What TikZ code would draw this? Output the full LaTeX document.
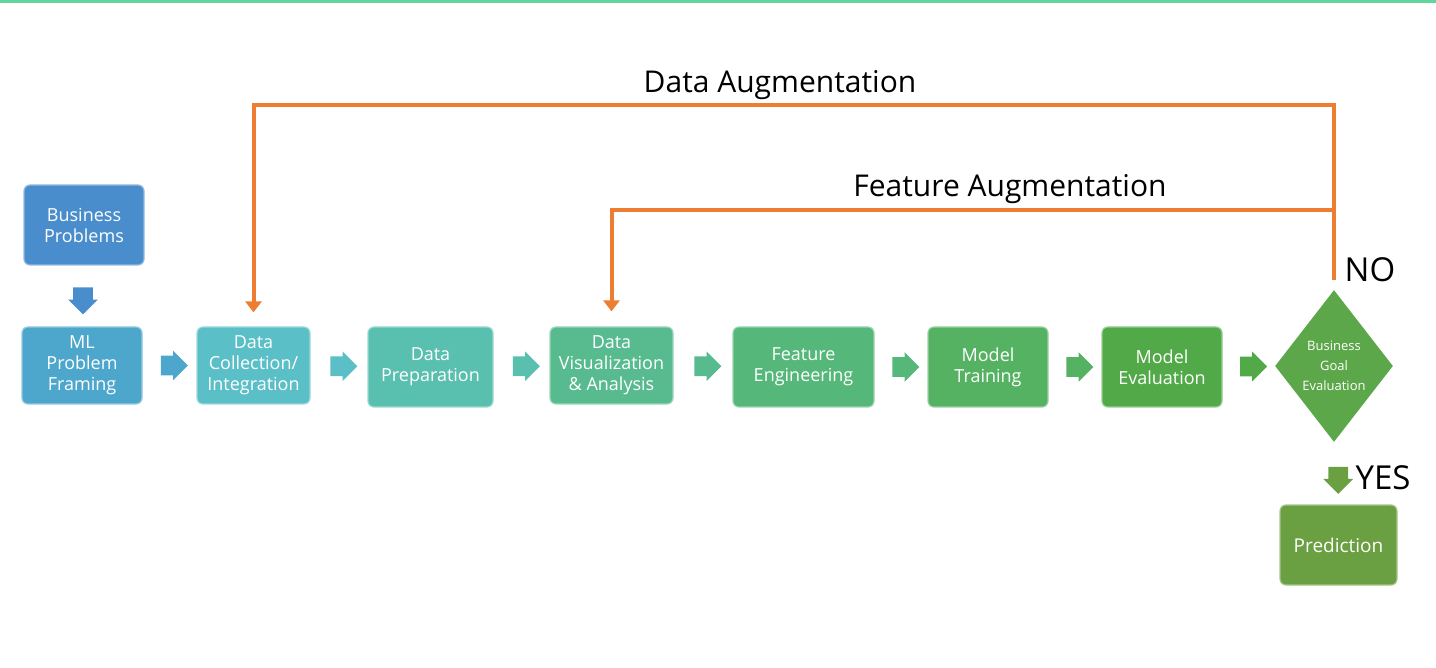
\documentclass[tikz,border=0pt]{standalone}
\usepackage{fontspec}
\setmainfont{Open Sans}
\usetikzlibrary{arrows.meta, positioning, calc, shapes.geometric, shapes.arrows}

\definecolor{bpblue}{HTML}{4A8DCC}
\definecolor{mlblue}{HTML}{4DA6CB}
\definecolor{dcteal}{HTML}{5ABFC7}
\definecolor{dpteal}{HTML}{59BFAF}
\definecolor{dvgreen}{HTML}{58BB8F}
\definecolor{fegreen}{HTML}{55B779}
\definecolor{mtgreen}{HTML}{55B262}
\definecolor{megreen}{HTML}{51AA47}
\definecolor{bggreen}{HTML}{5CA74A}
\definecolor{prgreen}{HTML}{6A9F42}
\definecolor{augorange}{HTML}{ED7D31}
\definecolor{topline}{HTML}{62D69A}

\begin{document}
\begin{tikzpicture}[
	x=0.5pt, y=-0.5pt,
	block/.style={
		rectangle, rounded corners=3pt, fill=#1, draw=#1!60!white, line width=0.6pt,
		text=white, align=center, inner sep=0pt,
		font=\fontsize{9}{10.5}\selectfont
	},
	decision/.style={
		diamond, aspect=0.78, fill=#1, draw=none, text=white, align=center,
		inner sep=0pt, minimum width=59pt, minimum height=76pt,
		font=\fontsize{6.5}{10}\selectfont
	},
	flow/.style={
		single arrow, fill=#1, draw=none, inner xsep=0pt, inner ysep=4.75pt,
		single arrow head extend=2.5pt, single arrow head indent=0pt,
		minimum height=13.5pt
	},
	feedback/.style={augorange, line width=2pt, -{Triangle[width=8pt,length=5.5pt]}},
	title/.style={font=\fontsize{15}{18}\selectfont},
	answer/.style={font=\fontsize{16.5}{19}\selectfont}
	]
	
	\useasboundingbox (0,0) rectangle (1436,668);
	\draw[topline, line width=1.5pt] (0,1.5) -- (1436,1.5);
	
	% Nodes
	\node[block=bpblue, minimum width=60pt, minimum height=40pt] (bp) at (84,225) {Business\\Problems};
	\node[block=mlblue, minimum width=60pt, minimum height=38.5pt] (mlf) at (82,365.5) {ML\\Problem\\Framing};
	\node[block=dcteal, minimum width=56.5pt, minimum height=38.5pt] (dci) at (253.5,365.5) {Data\\Collection/\\Integration};
	\node[block=dpteal, minimum width=62.5pt, minimum height=40pt] (dp) at (430.5,367) {Data\\Preparation};
	\node[block=dvgreen, minimum width=61.5pt, minimum height=38.5pt] (dva) at (611.5,365.5) {Data\\Visualization\\\& Analysis};
	\node[block=fegreen, minimum width=70.5pt, minimum height=40pt] (fe) at (803.5,367) {Feature\\Engineering};
	\node[block=mtgreen, minimum width=60pt, minimum height=40pt] (mt) at (988,367) {Model\\Training};
	\node[block=megreen, minimum width=60pt, minimum height=40pt] (me) at (1162,367) {Model\\Evaluation};
	\node[decision=bggreen] (bge) at (1334,366) {Business\\Goal\\Evaluation};
	\node[block=prgreen, minimum width=58.5pt, minimum height=40pt, font=\fontsize{9.5}{11}\selectfont] (pred) at (1338.5,545) {Prediction};
	
	% Block arrows
	\node[flow=bpblue, rotate=-90] (a0) at ($(bp.south)!0.5!(mlf.north)$) {};
	\node[flow=mlblue] (a1) at ($(mlf.east)!0.5!(dci.west)$) {};
	\node[flow=dcteal] (a2) at ($(dci.east)!0.5!(dp.west)$) {};
	\node[flow=dpteal] (a3) at ($(dp.east)!0.5!(dva.west)$) {};
	\node[flow=dvgreen] (a4) at ($(dva.east)!0.5!(fe.west)$) {};
	\node[flow=fegreen] (a5) at ($(fe.east)!0.5!(mt.west)$) {};
	\node[flow=mtgreen] (a6) at ($(mt.east)!0.5!(me.west)$) {};
	\node[flow=megreen] (a7) at ($(me.east)!0.5!(bge.west)$) {};
	\node[flow=prgreen, rotate=-90] (a8) at ($(bge.south)!0.5!(pred.north)+(2,2)$) {};
	
	% Answers
	\node[answer] (no) at (1370,270) {NO};
	\node[answer] (yes) at (1383,478) {YES};
	
	% Feedback loops
	\coordinate (datatop) at (1334,105);
	\coordinate (feattop) at (1334,210);
	\draw[feedback] ([yshift=5pt]bge.north) -- (datatop) -| ([yshift=7pt]dci.north);
	\draw[feedback] (feattop) -| ([yshift=7.5pt]dva.north);
	\node[title] (dalabel) at (780,85) {Data Augmentation};
	\node[title] (falabel) at (1010,189) {Feature Augmentation};
	
\end{tikzpicture}
\end{document}
